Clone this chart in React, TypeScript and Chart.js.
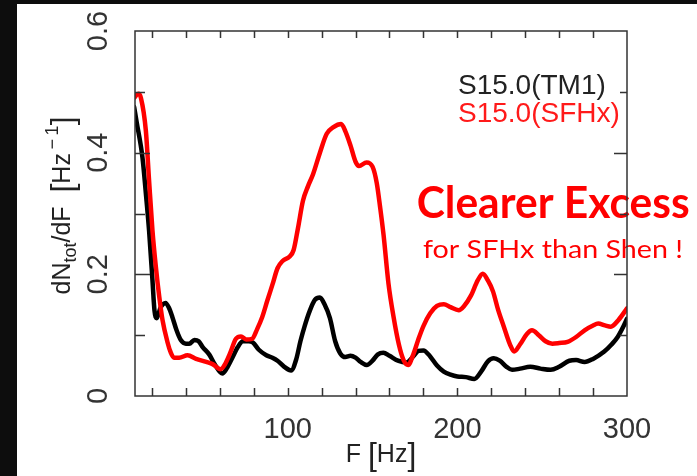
import React, { useEffect, useRef } from "react";
import { Chart, registerables } from "chart.js";

Chart.register(...registerables);

// ---- data ----
const sfhxFreq = [9.5, 12, 13.5, 16.4, 18.3, 20.3, 22.3, 24.3, 26.2, 29.2, 31, 33, 36, 41, 46, 52, 56, 60.5, 63, 66, 69.5, 72.5, 75.5, 79, 82, 85, 88, 91, 94, 97, 101, 103.5, 106, 109, 112, 115, 119, 123, 127, 131.5, 134, 137, 140, 142, 146.5, 150, 152.5, 154.5, 156.5, 159.4, 162.4, 165.5, 168.3, 171, 174, 177, 180, 184, 188, 192, 196, 200.8, 204, 208, 212, 215, 218, 221, 224, 227.4, 231, 233.5, 237, 241, 244, 248, 252, 256, 260, 265, 270, 275, 280, 283, 287, 290.5, 295, 300];
const sfhxValues = [0.49, 0.497, 0.49, 0.436, 0.354, 0.272, 0.212, 0.163, 0.125, 0.088, 0.072, 0.063, 0.063, 0.067, 0.061, 0.056, 0.052, 0.044, 0.052, 0.07, 0.094, 0.098, 0.093, 0.094, 0.11, 0.13, 0.157, 0.183, 0.21, 0.222, 0.229, 0.24, 0.275, 0.321, 0.345, 0.365, 0.4, 0.431, 0.442, 0.447, 0.435, 0.412, 0.385, 0.378, 0.384, 0.377, 0.35, 0.31, 0.265, 0.185, 0.13, 0.085, 0.059, 0.051, 0.068, 0.093, 0.115, 0.136, 0.148, 0.151, 0.146, 0.141, 0.148, 0.165, 0.19, 0.201, 0.19, 0.172, 0.142, 0.114, 0.085, 0.073, 0.085, 0.102, 0.108, 0.1, 0.09, 0.086, 0.087, 0.089, 0.097, 0.108, 0.116, 0.119, 0.116, 0.114, 0.125, 0.144];

const tm1Freq = [9.5, 11, 14.4, 16.5, 18.3, 20.3, 21.5, 22.8, 25, 28, 30, 32, 34.5, 37, 40, 42, 45, 47.5, 50, 53.8, 57, 61.5, 64, 67.6, 70.5, 73.6, 77, 79.5, 83, 87.4, 91, 94, 98, 102, 105, 107.5, 110, 113, 116, 119, 121.5, 124.9, 128, 131, 134, 137, 140, 143, 146.6, 150, 153, 156.4, 160, 165, 170, 174, 177, 180, 184, 188, 192, 196, 200, 205, 210, 214, 218, 221.5, 225, 229, 232.3, 237, 243, 249, 255, 260, 266, 270, 275, 280, 286.6, 291, 294.5, 298, 300];
const tm1Values = [0.475, 0.45, 0.392, 0.33, 0.272, 0.19, 0.14, 0.128, 0.145, 0.153, 0.145, 0.13, 0.108, 0.092, 0.086, 0.086, 0.092, 0.09, 0.08, 0.068, 0.052, 0.037, 0.045, 0.064, 0.08, 0.09, 0.09, 0.088, 0.076, 0.067, 0.063, 0.058, 0.048, 0.042, 0.06, 0.09, 0.115, 0.14, 0.158, 0.162, 0.152, 0.128, 0.09, 0.07, 0.064, 0.066, 0.063, 0.056, 0.051, 0.058, 0.068, 0.071, 0.066, 0.058, 0.055, 0.065, 0.074, 0.075, 0.065, 0.05, 0.04, 0.035, 0.032, 0.031, 0.028, 0.04, 0.057, 0.062, 0.058, 0.048, 0.043, 0.045, 0.048, 0.045, 0.043, 0.048, 0.058, 0.059, 0.056, 0.061, 0.073, 0.085, 0.097, 0.115, 0.127];

const xMin = 10;
const xMax = 300;
const xTickValues = [20, 40, 60, 80, 100, 120, 140, 160, 180, 200, 220, 240, 260, 280, 300];
const xLabelValues = [100, 200, 300];
const yMin = 0;
const yMax = 0.6;
const yStep = 0.1;
const yLabelValues = [0, 0.2, 0.4, 0.6];

const seriesNames = ["S15.0(TM1)", "S15.0(SFHx)"];
const headline = "Clearer Excess";
const subline = "for SFHx than Shen !";

const AXIS_FONT = "'Liberation Sans', Arial, sans-serif";
const NOTE_FONT = "Lato, 'Open Sans', sans-serif";

const decorPlugin = {
  id: "decor",
  afterDatasetsDraw(chart: any) {
    const { ctx, chartArea } = chart;
    const { left, right, top, bottom } = chartArea;
    ctx.save();
    // legend-like labels
    ctx.textBaseline = "alphabetic";
    ctx.textAlign = "left";
    ctx.font = `28px ${AXIS_FONT}`;
    ctx.fillStyle = "#222";
    ctx.fillText(seriesNames[0], right - 169, top + 62.5);
    ctx.fillStyle = "#ff1a1a";
    ctx.fillText(seriesNames[1], right - 169, top + 90.7);

    // headline, fitted to its width
    const fitText = (txt: string, font: string, x: number, y: number, w: number) => {
      ctx.font = font;
      const m = ctx.measureText(txt).width;
      ctx.save();
      ctx.translate(x, y);
      ctx.scale(w / m, 1);
      ctx.fillText(txt, 0, 0);
      ctx.restore();
    };
    ctx.fillStyle = "#ff0000";
    fitText(headline, `bold 44px ${NOTE_FONT}`, right - 210.3, top + 187.3, 273);
    fitText(subline, `25px ${NOTE_FONT}`, right - 204, top + 227.3, 260);

    // y axis title (rotated, with sub/superscript)
    const parts = [
      { t: "dN", size: 25, dy: 0 },
      { t: "tot", size: 18, dy: 6 },
      { t: "/dF  ", size: 25, dy: 0 },
      { t: "[", size: 32, dy: 3 },
      { t: "Hz", size: 25, dy: 0 },
      { t: "\u2009\u2212\u20091", size: 18, dy: -12 },
      { t: "]", size: 32, dy: 3 },
    ];
    let total = 0;
    const widths = parts.map((p) => {
      ctx.font = `${p.size}px ${AXIS_FONT}`;
      const w = ctx.measureText(p.t).width;
      total += w;
      return w;
    });
    ctx.save();
    ctx.translate(left - 65, (top + bottom) / 2 - 8);
    ctx.rotate(-Math.PI / 2);
    ctx.fillStyle = "#222";
    let cx = -total / 2;
    parts.forEach((p, i) => {
      ctx.font = `${p.size}px ${AXIS_FONT}`;
      ctx.fillText(p.t, cx, p.dy);
      cx += widths[i];
    });
    ctx.restore();

    // x axis title
    const xparts = [
      { t: "F ", size: 25, dy: 0 },
      { t: "[", size: 32, dy: 3 },
      { t: "Hz", size: 25, dy: 0 },
      { t: "]", size: 32, dy: 3 },
    ];
    let xt = 0;
    const xw = xparts.map((p) => {
      ctx.font = `${p.size}px ${AXIS_FONT}`;
      const w = ctx.measureText(p.t).width;
      xt += w;
      return w;
    });
    ctx.fillStyle = "#222";
    let xx = (left + right) / 2 - xt / 2;
    xparts.forEach((p, i) => {
      ctx.font = `${p.size}px ${AXIS_FONT}`;
      ctx.fillText(p.t, xx, bottom + 66 + p.dy);
      xx += xw[i];
    });
    ctx.restore();
  },
  afterDraw(chart: any) {
    const { ctx, chartArea, scales } = chart;
    const { left, right, top, bottom } = chartArea;
    const xs = scales.x;
    const ys = scales.y;
    ctx.save();
    ctx.strokeStyle = "#333";
    ctx.lineWidth = 1.5;
    ctx.strokeRect(left, top, right - left, bottom - top);
    ctx.beginPath();
    xs.ticks.forEach((t: any) => {
      const px = Math.round(xs.getPixelForValue(t.value)) + 0.5;
      if (px >= right - 1) return;
      ctx.moveTo(px, bottom);
      ctx.lineTo(px, bottom - 8);
      ctx.moveTo(px, top);
      ctx.lineTo(px, top + 7);
    });
    ys.ticks.forEach((t: any) => {
      const v = t.value;
      if (v <= 1e-6 || v >= yMax - 1e-6) return;
      const py = Math.round(ys.getPixelForValue(v)) + 0.5;
      const major = Math.round(v * 10) % 2 === 0;
      ctx.moveTo(left, py);
      ctx.lineTo(left + (major ? 15 : 10), py);
      ctx.moveTo(right, py);
      ctx.lineTo(right - (major ? 13 : 7), py);
    });
    ctx.stroke();
    ctx.restore();
  },
};

export default function App() {
  const ref = useRef<HTMLCanvasElement | null>(null);
  useEffect(() => {
    if (!ref.current) return;
    const chart = new Chart(ref.current, {
      type: "line",
      data: {
        datasets: [
          {
            label: seriesNames[1],
            data: sfhxFreq.map((f, i) => ({ x: f, y: sfhxValues[i] })),
            borderColor: "#ff0000",
            borderWidth: 4.5,
            pointRadius: 0,
            cubicInterpolationMode: "monotone",
            borderJoinStyle: "round",
            borderCapStyle: "round",
            fill: false,
          },
          {
            label: seriesNames[0],
            data: tm1Freq.map((f, i) => ({ x: f, y: tm1Values[i] })),
            borderColor: "#000000",
            borderWidth: 4.5,
            pointRadius: 0,
            cubicInterpolationMode: "monotone",
            borderJoinStyle: "round",
            borderCapStyle: "round",
            fill: false,
          },
        ],
      },
      options: {
        animation: false,
        responsive: false,
        maintainAspectRatio: false,
        layout: { padding: { top: 27, right: 70, left: 0, bottom: 0 } },
        plugins: { legend: { display: false }, tooltip: { enabled: false } },
        scales: {
          x: {
            type: "linear",
            min: xMin,
            max: xMax,
            afterBuildTicks: (s: any) => {
              s.ticks = xTickValues.map((v) => ({ value: v }));
            },
            afterFit: (s: any) => {
              s.height = 80;
            },
            grid: { display: false },
            border: { display: false },
            ticks: {
              minRotation: 0,
              maxRotation: 0,
              autoSkip: false,
              padding: 9,
              color: "#333",
              font: { family: AXIS_FONT, size: 29 },
              callback: (v: any) => (xLabelValues.includes(Number(v)) ? String(v) : ""),
            },
          },
          y: {
            type: "linear",
            min: yMin,
            max: yMax,
            afterFit: (s: any) => {
              s.width = 118;
            },
            grid: { display: false },
            border: { display: false },
            ticks: {
              stepSize: yStep,
              minRotation: 90,
              maxRotation: 90,
              crossAlign: "center",
              padding: 8,
              autoSkip: false,
              color: "#333",
              font: { family: AXIS_FONT, size: 29 },
              callback: (v: any) => {
                const n = Number(v);
                const hit = yLabelValues.find((l) => Math.abs(l - n) < 1e-6);
                return hit === undefined ? "" : hit === 0 ? "0" : hit.toFixed(1);
              },
            },
          },
        },
      },
      plugins: [decorPlugin],
    } as any);
    return () => chart.destroy();
  }, []);
  return (
    <div
      style={{
        position: "fixed",
        left: 0,
        top: 0,
        width: 697,
        height: 476,
        background: "#0d0d0d",
        overflow: "hidden",
      }}
    >
      <canvas
        ref={ref}
        width={680}
        height={472}
        style={{ position: "absolute", left: 17, top: 4, width: 680, height: 472, background: "#ffffff" }}
      />
    </div>
  );
}
